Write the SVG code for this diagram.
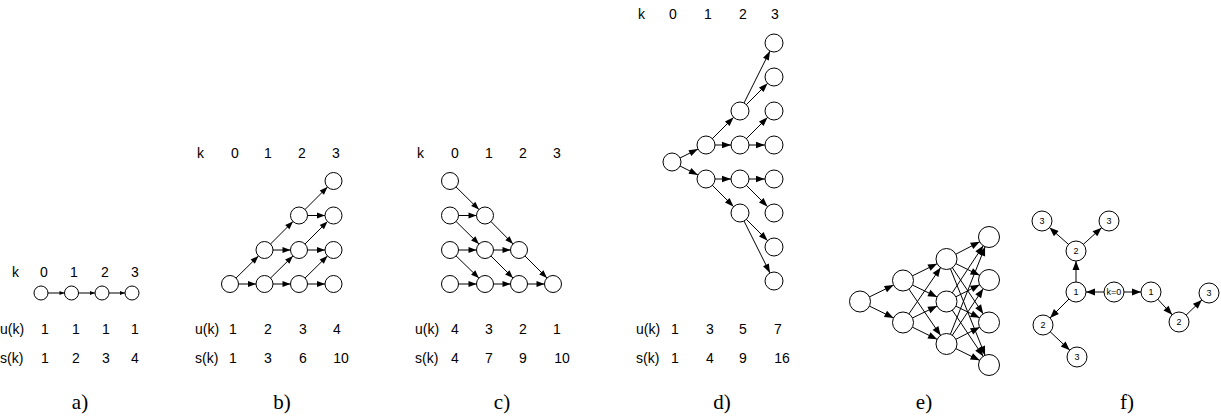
<svg xmlns="http://www.w3.org/2000/svg" width="1221" height="420" viewBox="0 0 1221 420">
<style>
.n{fill:#fff;stroke:#000;stroke-width:1}
.e line{stroke:#000;stroke-width:1}
.t{font-family:"Liberation Sans",Arial,sans-serif;font-size:14px;fill:#000}
.m{text-anchor:middle}
.cap{font-family:"Liberation Serif","Times New Roman",serif;font-size:21px;text-anchor:middle;fill:#000}
.fl{font-family:"Liberation Sans",Arial,sans-serif;font-size:9px;text-anchor:middle;fill:#000}
</style>
<defs>
<marker id="ma" markerUnits="userSpaceOnUse" markerWidth="5" markerHeight="4" refX="12" refY="2" orient="auto" overflow="visible"><path d="M0,0L5,2L0,4z" fill="#000"/></marker>
<marker id="mb" markerUnits="userSpaceOnUse" markerWidth="8" markerHeight="6" refX="16.5" refY="3" orient="auto" overflow="visible"><path d="M0,0L8,3L0,6z" fill="#000"/></marker>
<marker id="md" markerUnits="userSpaceOnUse" markerWidth="9" markerHeight="6.5" refX="18" refY="3.25" orient="auto" overflow="visible"><path d="M0,0L9,3.25L0,6.5z" fill="#000"/></marker>
<marker id="me" markerUnits="userSpaceOnUse" markerWidth="9" markerHeight="7" refX="19.5" refY="3.5" orient="auto" overflow="visible"><path d="M0,0L9,3.5L0,7z" fill="#000"/></marker>
<marker id="mf" markerUnits="userSpaceOnUse" markerWidth="9" markerHeight="7" refX="19" refY="3.5" orient="auto" overflow="visible"><path d="M0,0L9,3.5L0,7z" fill="#000"/></marker>
</defs>

<g id="connectors" class="e">
<g marker-end="url(#ma)">
<line x1="41" y1="293" x2="71.5" y2="293"/>
<line x1="71.5" y1="293" x2="102" y2="293"/>
<line x1="102" y1="293" x2="132" y2="293"/>
</g>
<g marker-end="url(#mb)">
<line x1="230" y1="284" x2="264.5" y2="284"/>
<line x1="230" y1="284" x2="264.5" y2="250"/>
<line x1="264.5" y1="284" x2="299" y2="284"/>
<line x1="264.5" y1="284" x2="299" y2="250"/>
<line x1="264.5" y1="250" x2="299" y2="250"/>
<line x1="264.5" y1="250" x2="299" y2="215.5"/>
<line x1="299" y1="284" x2="333.5" y2="284"/>
<line x1="299" y1="284" x2="333.5" y2="250"/>
<line x1="299" y1="250" x2="333.5" y2="250"/>
<line x1="299" y1="250" x2="333.5" y2="215.5"/>
<line x1="299" y1="215.5" x2="333.5" y2="215.5"/>
<line x1="299" y1="215.5" x2="333.5" y2="181"/>

<line x1="450" y1="181" x2="485" y2="215.5"/>
<line x1="450" y1="215.5" x2="485" y2="215.5"/>
<line x1="450" y1="215.5" x2="485" y2="250"/>
<line x1="450" y1="250" x2="485" y2="250"/>
<line x1="450" y1="250" x2="485" y2="284"/>
<line x1="450" y1="284" x2="485" y2="284"/>
<line x1="485" y1="215.5" x2="519" y2="250"/>
<line x1="485" y1="250" x2="519" y2="250"/>
<line x1="485" y1="250" x2="519" y2="284"/>
<line x1="485" y1="284" x2="519" y2="284"/>
<line x1="519" y1="250" x2="553" y2="284"/>
<line x1="519" y1="284" x2="553" y2="284"/>
</g>
<g marker-end="url(#md)">
<line x1="672" y1="162" x2="706" y2="145"/>
<line x1="672" y1="162" x2="706" y2="179"/>
<line x1="706" y1="145" x2="740" y2="111"/>
<line x1="706" y1="145" x2="740" y2="145"/>
<line x1="706" y1="179" x2="740" y2="179"/>
<line x1="706" y1="179" x2="740" y2="213"/>
<line x1="740" y1="111" x2="774" y2="43"/>
<line x1="740" y1="111" x2="774" y2="77"/>
<line x1="740" y1="145" x2="774" y2="111"/>
<line x1="740" y1="145" x2="774" y2="145"/>
<line x1="740" y1="179" x2="774" y2="179"/>
<line x1="740" y1="179" x2="774" y2="213"/>
<line x1="740" y1="213" x2="774" y2="247"/>
<line x1="740" y1="213" x2="774" y2="281"/>
</g>
<g marker-end="url(#me)">
<line x1="860" y1="301.5" x2="903" y2="280.5"/>
<line x1="860" y1="301.5" x2="903" y2="322.5"/>
<line x1="903" y1="280.5" x2="946.5" y2="259"/>
<line x1="903" y1="280.5" x2="946.5" y2="301.5"/>
<line x1="903" y1="280.5" x2="946.5" y2="344"/>
<line x1="903" y1="322.5" x2="946.5" y2="259"/>
<line x1="903" y1="322.5" x2="946.5" y2="301.5"/>
<line x1="903" y1="322.5" x2="946.5" y2="344"/>
<line x1="946.5" y1="259" x2="989" y2="237"/>
<line x1="946.5" y1="259" x2="989" y2="280"/>
<line x1="946.5" y1="259" x2="989" y2="322.5"/>
<line x1="946.5" y1="259" x2="989" y2="365"/>
<line x1="946.5" y1="301.5" x2="989" y2="237"/>
<line x1="946.5" y1="301.5" x2="989" y2="280"/>
<line x1="946.5" y1="301.5" x2="989" y2="322.5"/>
<line x1="946.5" y1="301.5" x2="989" y2="365"/>
<line x1="946.5" y1="344" x2="989" y2="237"/>
<line x1="946.5" y1="344" x2="989" y2="280"/>
<line x1="946.5" y1="344" x2="989" y2="322.5"/>
<line x1="946.5" y1="344" x2="989" y2="365"/>
</g>
<g marker-end="url(#mf)">
<line x1="1076" y1="251" x2="1042" y2="221"/>
<line x1="1076" y1="251" x2="1109" y2="221"/>
<line x1="1076" y1="292" x2="1076" y2="251"/>
<line x1="1114" y1="292" x2="1076" y2="292"/>
<line x1="1114" y1="292" x2="1151" y2="292"/>
<line x1="1076" y1="292" x2="1043" y2="325"/>
<line x1="1043" y1="325" x2="1077" y2="357"/>
<line x1="1151" y1="292" x2="1179" y2="322"/>
<line x1="1179" y1="322" x2="1209" y2="293"/>
</g>
</g>

<!-- a) -->
<g id="a0"><circle class="n" cx="41" cy="293" r="7"/></g>
<g id="a1"><circle class="n" cx="71.5" cy="293" r="7"/></g>
<g id="a2"><circle class="n" cx="102" cy="293" r="7"/></g>
<g id="a3"><circle class="n" cx="132" cy="293" r="7"/></g>
<g id="a-labels" class="t">
<text x="12" y="277">k</text>
<text class="m" x="44" y="277">0</text><text class="m" x="74" y="277">1</text><text class="m" x="105" y="277">2</text><text class="m" x="135" y="277">3</text>
<text x="0" y="334">u(k)</text>
<text class="m" x="45" y="334">1</text><text class="m" x="76" y="334">1</text><text class="m" x="106" y="334">1</text><text class="m" x="135" y="334">1</text>
<text x="0" y="363">s(k)</text>
<text class="m" x="45" y="363">1</text><text class="m" x="76" y="363">2</text><text class="m" x="106" y="363">3</text><text class="m" x="135" y="363">4</text>
</g>
<text class="cap" x="80" y="409">a)</text>

<!-- b) -->
<g id="b00"><circle class="n" cx="230" cy="284" r="8.5"/></g>
<g id="b10"><circle class="n" cx="264.5" cy="284" r="8.5"/></g>
<g id="b11"><circle class="n" cx="264.5" cy="250" r="8.5"/></g>
<g id="b20"><circle class="n" cx="299" cy="284" r="8.5"/></g>
<g id="b21"><circle class="n" cx="299" cy="250" r="8.5"/></g>
<g id="b22"><circle class="n" cx="299" cy="215.5" r="8.5"/></g>
<g id="b30"><circle class="n" cx="333.5" cy="284" r="8.5"/></g>
<g id="b31"><circle class="n" cx="333.5" cy="250" r="8.5"/></g>
<g id="b32"><circle class="n" cx="333.5" cy="215.5" r="8.5"/></g>
<g id="b33"><circle class="n" cx="333.5" cy="181" r="8.5"/></g>
<g id="b-labels" class="t">
<text x="197" y="158">k</text>
<text class="m" x="235" y="158">0</text><text class="m" x="268" y="158">1</text><text class="m" x="302" y="158">2</text><text class="m" x="336" y="158">3</text>
<text x="195" y="334">u(k)</text>
<text class="m" x="233" y="334">1</text><text class="m" x="268" y="334">2</text><text class="m" x="303" y="334">3</text><text class="m" x="337" y="334">4</text>
<text x="195" y="363">s(k)</text>
<text class="m" x="233" y="363">1</text><text class="m" x="268" y="363">3</text><text class="m" x="303" y="363">6</text><text class="m" x="341" y="363">10</text>
</g>
<text class="cap" x="282" y="409">b)</text>

<!-- c) -->
<g id="c03"><circle class="n" cx="450" cy="181" r="8.5"/></g>
<g id="c02"><circle class="n" cx="450" cy="215.5" r="8.5"/></g>
<g id="c01"><circle class="n" cx="450" cy="250" r="8.5"/></g>
<g id="c00"><circle class="n" cx="450" cy="284" r="8.5"/></g>
<g id="c12"><circle class="n" cx="485" cy="215.5" r="8.5"/></g>
<g id="c11"><circle class="n" cx="485" cy="250" r="8.5"/></g>
<g id="c10"><circle class="n" cx="485" cy="284" r="8.5"/></g>
<g id="c21"><circle class="n" cx="519" cy="250" r="8.5"/></g>
<g id="c20"><circle class="n" cx="519" cy="284" r="8.5"/></g>
<g id="c30"><circle class="n" cx="553" cy="284" r="8.5"/></g>
<g id="c-labels" class="t">
<text x="417" y="158">k</text>
<text class="m" x="455" y="158">0</text><text class="m" x="489" y="158">1</text><text class="m" x="523" y="158">2</text><text class="m" x="557" y="158">3</text>
<text x="415" y="334">u(k)</text>
<text class="m" x="455" y="334">4</text><text class="m" x="489" y="334">3</text><text class="m" x="523" y="334">2</text><text class="m" x="557" y="334">1</text>
<text x="415" y="363">s(k)</text>
<text class="m" x="455" y="363">4</text><text class="m" x="489" y="363">7</text><text class="m" x="523" y="363">9</text><text class="m" x="562" y="363">10</text>
</g>
<text class="cap" x="502" y="409">c)</text>

<!-- d) -->
<g id="d0"><circle class="n" cx="672" cy="162" r="9"/></g>
<g id="d1a"><circle class="n" cx="706" cy="145" r="9"/></g>
<g id="d1b"><circle class="n" cx="706" cy="179" r="9"/></g>
<g id="d2a"><circle class="n" cx="740" cy="111" r="9"/></g>
<g id="d2b"><circle class="n" cx="740" cy="145" r="9"/></g>
<g id="d2c"><circle class="n" cx="740" cy="179" r="9"/></g>
<g id="d2d"><circle class="n" cx="740" cy="213" r="9"/></g>
<g id="d30"><circle class="n" cx="774" cy="43" r="9"/></g>
<g id="d31"><circle class="n" cx="774" cy="77" r="9"/></g>
<g id="d32"><circle class="n" cx="774" cy="111" r="9"/></g>
<g id="d33"><circle class="n" cx="774" cy="145" r="9"/></g>
<g id="d34"><circle class="n" cx="774" cy="179" r="9"/></g>
<g id="d35"><circle class="n" cx="774" cy="213" r="9"/></g>
<g id="d36"><circle class="n" cx="774" cy="247" r="9"/></g>
<g id="d37"><circle class="n" cx="774" cy="281" r="9"/></g>
<g id="d-labels" class="t">
<text x="638" y="19">k</text>
<text class="m" x="673" y="19">0</text><text class="m" x="708" y="19">1</text><text class="m" x="743" y="19">2</text><text class="m" x="775" y="19">3</text>
<text x="636" y="334">u(k)</text>
<text class="m" x="675" y="334">1</text><text class="m" x="710" y="334">3</text><text class="m" x="743" y="334">5</text><text class="m" x="778" y="334">7</text>
<text x="636" y="363">s(k)</text>
<text class="m" x="675" y="363">1</text><text class="m" x="710" y="363">4</text><text class="m" x="743" y="363">9</text><text class="m" x="782" y="363">16</text>
</g>
<text class="cap" x="722" y="409">d)</text>

<!-- e) -->
<g id="e0"><circle class="n" cx="860" cy="301.5" r="10.5"/></g>
<g id="e1a"><circle class="n" cx="903" cy="280.5" r="10.5"/></g>
<g id="e1b"><circle class="n" cx="903" cy="322.5" r="10.5"/></g>
<g id="e2a"><circle class="n" cx="946.5" cy="259" r="10.5"/></g>
<g id="e2b"><circle class="n" cx="946.5" cy="301.5" r="10.5"/></g>
<g id="e2c"><circle class="n" cx="946.5" cy="344" r="10.5"/></g>
<g id="e3a"><circle class="n" cx="989" cy="237" r="10.5"/></g>
<g id="e3b"><circle class="n" cx="989" cy="280" r="10.5"/></g>
<g id="e3c"><circle class="n" cx="989" cy="322.5" r="10.5"/></g>
<g id="e3d"><circle class="n" cx="989" cy="365" r="10.5"/></g>
<text class="cap" x="924" y="409">e)</text>

<!-- f) -->
<g id="fA"><circle class="n" cx="1042" cy="221" r="10"/><text class="fl" x="1042" y="224">3</text></g>
<g id="fB"><circle class="n" cx="1109" cy="221" r="10"/><text class="fl" x="1109" y="224">3</text></g>
<g id="fC"><circle class="n" cx="1076" cy="251" r="10"/><text class="fl" x="1076" y="254">2</text></g>
<g id="fD"><circle class="n" cx="1076" cy="292" r="10"/><text class="fl" x="1076" y="295">1</text></g>
<g id="fE"><circle class="n" cx="1114" cy="292" r="10"/><text class="fl" x="1114" y="295">k=0</text></g>
<g id="fF"><circle class="n" cx="1151" cy="292" r="10"/><text class="fl" x="1151" y="295">1</text></g>
<g id="fG"><circle class="n" cx="1043" cy="325" r="10"/><text class="fl" x="1043" y="328">2</text></g>
<g id="fH"><circle class="n" cx="1077" cy="357" r="10"/><text class="fl" x="1077" y="360">3</text></g>
<g id="fI"><circle class="n" cx="1179" cy="322" r="10"/><text class="fl" x="1179" y="325">2</text></g>
<g id="fJ"><circle class="n" cx="1209" cy="293" r="10"/><text class="fl" x="1209" y="296">3</text></g>
<text class="cap" x="1127" y="409">f)</text>
</svg>
